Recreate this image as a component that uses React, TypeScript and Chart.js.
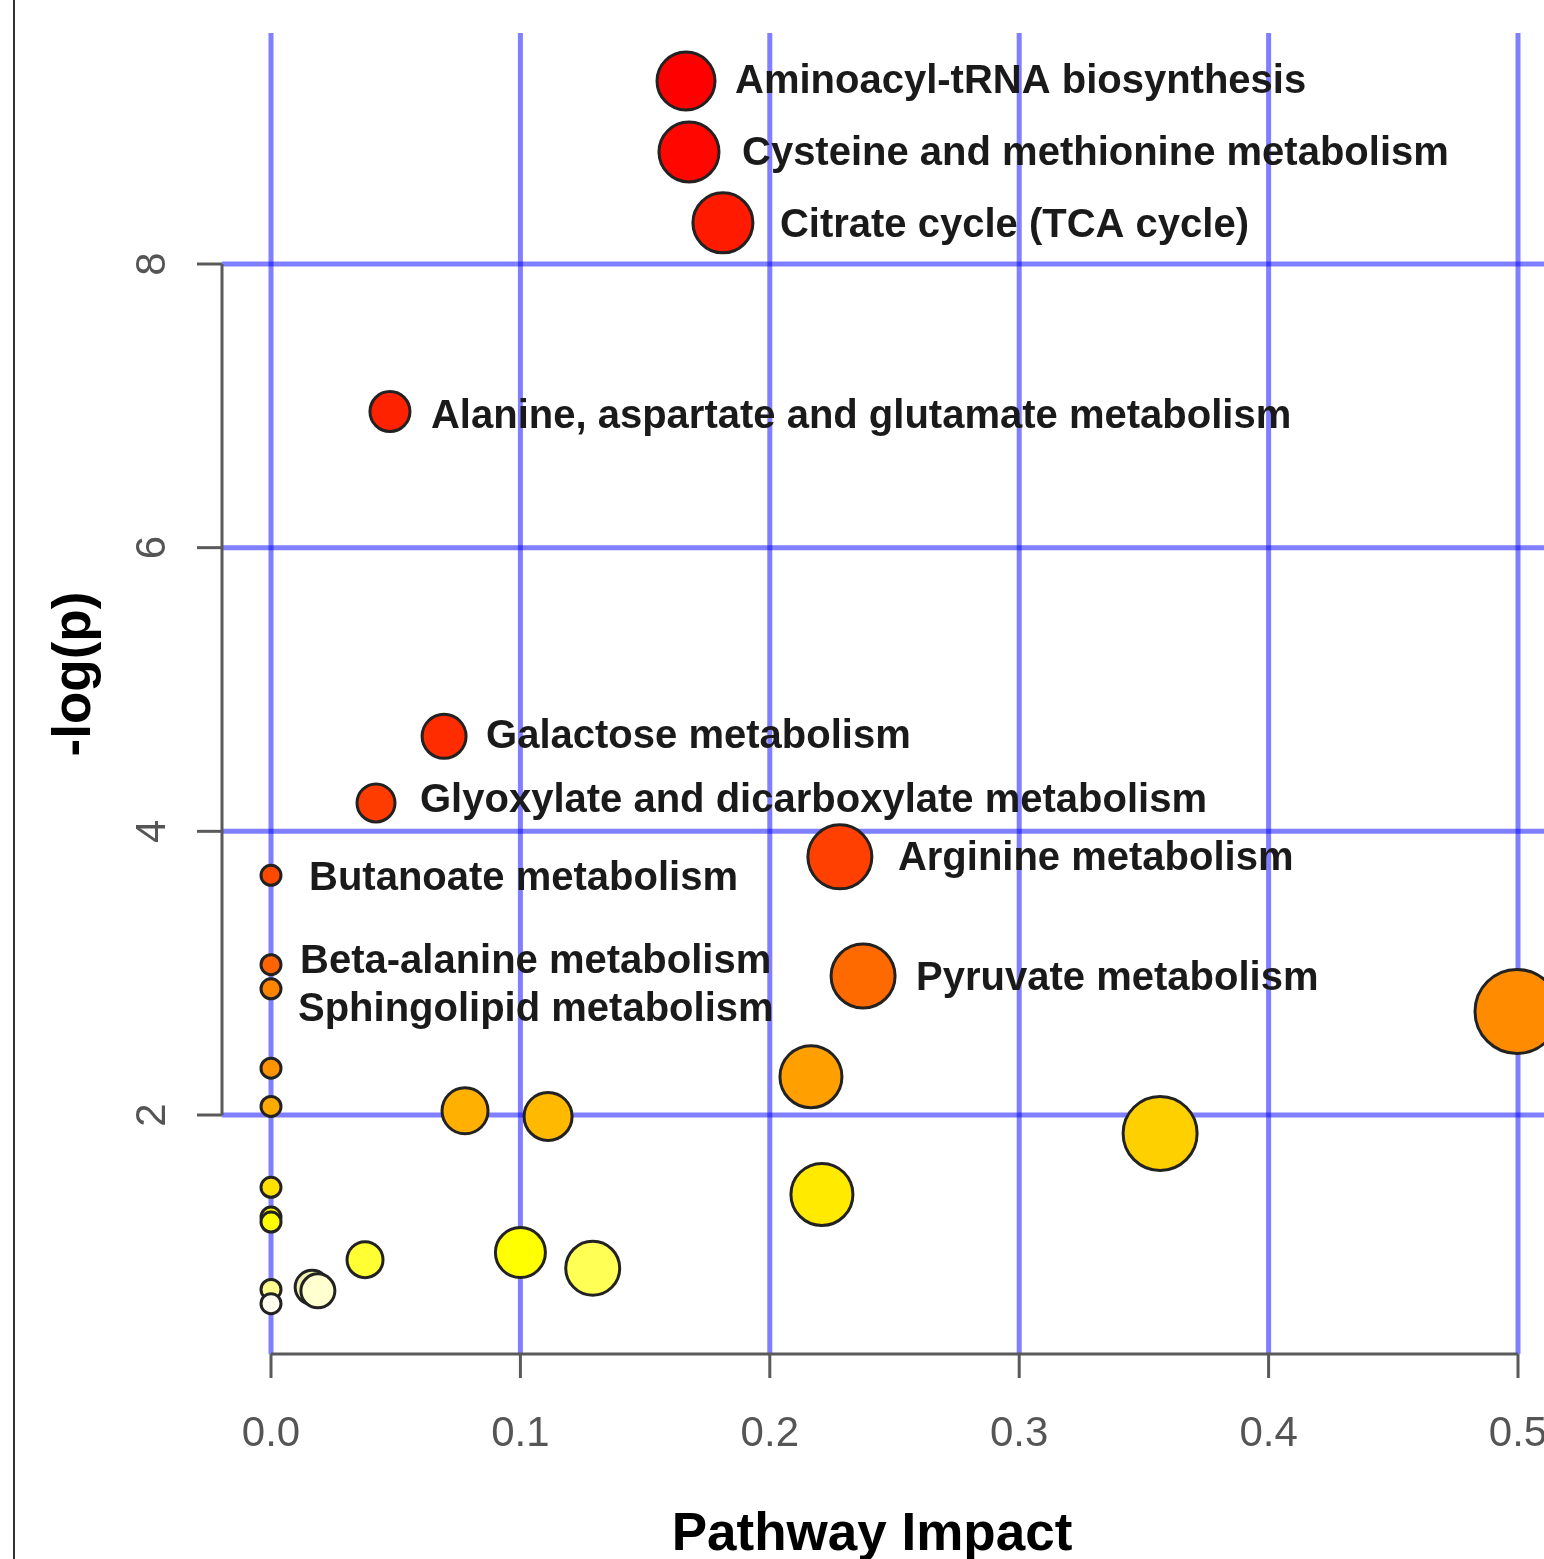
import React, { useEffect, useRef } from "react";
import { Chart, registerables } from "chart.js";

Chart.register(...registerables);

// ---------- data ----------
const pathwayNames = [
  "Aminoacyl-tRNA biosynthesis",
  "Cysteine and methionine metabolism",
  "Citrate cycle (TCA cycle)",
  "Alanine, aspartate and glutamate metabolism",
  "Galactose metabolism",
  "Glyoxylate and dicarboxylate metabolism",
  "Arginine metabolism",
  "Butanoate metabolism",
  "Beta-alanine metabolism",
  "Pyruvate metabolism",
  "Sphingolipid metabolism",
  "",
  "",
  "",
  "",
  "",
  "",
  "",
  "",
  "",
  "",
  "",
  "",
  "",
  "",
  "",
  "",
  "",
  "",
];

const impact = [
  0.1664, 0.1676, 0.1812, 0.0477, 0.0694, 0.0421, 0.2281, 0.0, 0.0, 0.2374,
  0.0, 0.4996, 0.0, 0.2165, 0.0, 0.0778, 0.1111, 0.3565, 0.0, 0.2209, 0.0,
  0.0, 0.1, 0.0377, 0.129, 0.0, 0.0165, 0.0188, 0.0,
];

const negLogP = [
  9.29, 8.79, 8.29, 6.96, 4.67, 4.2, 3.82, 3.69, 3.06, 2.98, 2.89, 2.73, 2.33,
  2.27, 2.06, 2.03, 1.99, 1.87, 1.49, 1.44, 1.28, 1.245, 1.03, 0.98, 0.92,
  0.77, 0.785, 0.76, 0.67,
];

const bubbleRadius = [
  29, 30, 30, 20, 22, 19, 32, 10, 10, 32, 10, 42, 10, 31, 10, 23, 24, 37, 10,
  31, 10, 10, 25, 18, 27, 10, 17, 17, 10,
];

const fillColors = [
  "#ff0000", "#ff0600", "#ff1a00", "#ff2200", "#ff2c00", "#ff3c00", "#ff4000",
  "#ff4800", "#ff6400", "#ff6a00", "#ff8400", "#ff8c00", "#ff9400", "#ffa000",
  "#ffaa00", "#ffb000", "#ffba00", "#ffd000", "#ffe000", "#ffea00", "#f5f000",
  "#ffff00", "#ffff00", "#ffff33", "#ffff55", "#ffff90", "#f2f2b0", "#ffffd0",
  "#fffff2",
];

const xTicks = [0, 0.1, 0.2, 0.3, 0.4, 0.5];
const xTickLabels = ["0.0", "0.1", "0.2", "0.3", "0.4", "0.5"];
const yTicks = [2, 4, 6, 8];
const yTickLabels = ["2", "4", "6", "8"];
const xTitle = "Pathway Impact";
const yTitle = "-log(p)";

// label placement relative to bubble centre (px)
const labelOffset: Record<string, [number, number]> = {
  "Aminoacyl-tRNA biosynthesis": [49, 1],
  "Cysteine and methionine metabolism": [53, 2],
  "Citrate cycle (TCA cycle)": [57, 3],
  "Alanine, aspartate and glutamate metabolism": [41, 5],
  "Galactose metabolism": [42, 1],
  "Glyoxylate and dicarboxylate metabolism": [44, -2],
  "Arginine metabolism": [58, 2],
  "Butanoate metabolism": [38, 4],
  "Beta-alanine metabolism": [29, -3],
  "Pyruvate metabolism": [53, 3],
  "Sphingolipid metabolism": [27, 21],
};

const SANS = '"Liberation Sans", Arial, Helvetica, sans-serif';

const decorPlugin = {
  id: "decor",
  beforeDatasetsDraw(chart: any) {
    const ctx = chart.ctx as CanvasRenderingContext2D;
    const xs = chart.scales.x;
    const ys = chart.scales.y;
    const area = chart.chartArea;
    const axisX = 222;
    ctx.save();
    // left frame line
    ctx.strokeStyle = "#333";
    ctx.lineWidth = 2;
    ctx.beginPath();
    ctx.moveTo(14, 0);
    ctx.lineTo(14, chart.height);
    ctx.stroke();

    // blue grid
    ctx.strokeStyle = "rgba(0,0,255,0.5)";
    ctx.lineWidth = 5;
    xTicks.forEach((v) => {
      const px = xs.getPixelForValue(v);
      ctx.beginPath();
      ctx.moveTo(px, area.top);
      ctx.lineTo(px, area.bottom);
      ctx.stroke();
    });
    yTicks.forEach((v) => {
      const py = ys.getPixelForValue(v);
      ctx.beginPath();
      ctx.moveTo(axisX, py);
      ctx.lineTo(chart.width, py);
      ctx.stroke();
    });

    // axes
    ctx.strokeStyle = "#5a5a5a";
    ctx.lineWidth = 3;
    const y0 = ys.getPixelForValue(yTicks[0]);
    const y1 = ys.getPixelForValue(yTicks[yTicks.length - 1]);
    ctx.beginPath();
    ctx.moveTo(axisX, y0);
    ctx.lineTo(axisX, y1);
    ctx.stroke();
    yTicks.forEach((v) => {
      const py = ys.getPixelForValue(v);
      ctx.beginPath();
      ctx.moveTo(axisX - 25, py);
      ctx.lineTo(axisX, py);
      ctx.stroke();
    });
    const x0 = xs.getPixelForValue(xTicks[0]);
    const x1 = xs.getPixelForValue(xTicks[xTicks.length - 1]);
    ctx.beginPath();
    ctx.moveTo(x0, area.bottom);
    ctx.lineTo(x1, area.bottom);
    ctx.stroke();
    xTicks.forEach((v) => {
      const px = xs.getPixelForValue(v);
      ctx.beginPath();
      ctx.moveTo(px, area.bottom);
      ctx.lineTo(px, area.bottom + 24);
      ctx.stroke();
    });

    // tick labels
    ctx.fillStyle = "#555";
    ctx.font = `42px ${SANS}`;
    ctx.textAlign = "center";
    ctx.textBaseline = "middle";
    xTicks.forEach((v, i) => {
      ctx.fillText(xTickLabels[i], xs.getPixelForValue(v), 1434);
    });
    yTicks.forEach((v, i) => {
      const py = ys.getPixelForValue(v);
      ctx.save();
      ctx.translate(153, py);
      ctx.rotate(-Math.PI / 2);
      ctx.fillText(yTickLabels[i], 0, 0);
      ctx.restore();
    });

    // axis titles
    ctx.fillStyle = "#000";
    ctx.font = `bold 53px ${SANS}`;
    ctx.textBaseline = "alphabetic";
    ctx.fillText(xTitle, 872, 1550);
    ctx.save();
    ctx.translate(90, 674);
    ctx.rotate(-Math.PI / 2);
    ctx.fillText(yTitle, 0, 0);
    ctx.restore();
    ctx.restore();
  },
  afterDatasetsDraw(chart: any) {
    const ctx = chart.ctx as CanvasRenderingContext2D;
    const xs = chart.scales.x;
    const ys = chart.scales.y;
    ctx.save();
    ctx.fillStyle = "#1a1a1a";
    ctx.font = `bold 40px ${SANS}`;
    ctx.textAlign = "left";
    ctx.textBaseline = "middle";
    pathwayNames.forEach((name, i) => {
      if (!name) return;
      const off = labelOffset[name] || [bubbleRadius[i] + 20, 0];
      const px = xs.getPixelForValue(impact[i]);
      const py = ys.getPixelForValue(negLogP[i]);
      ctx.fillText(name, px + off[0], py + off[1]);
    });
    ctx.restore();
  },
};

export default function App() {
  const canvasRef = useRef<HTMLCanvasElement | null>(null);

  useEffect(() => {
    const canvas = canvasRef.current;
    if (!canvas) return;
    const points = impact.map((x, i) => ({ x, y: negLogP[i], r: bubbleRadius[i] }));
    const chart = new Chart(canvas, {
      type: "bubble",
      data: {
        datasets: [
          {
            data: points,
            backgroundColor: fillColors,
            borderColor: "#222",
            borderWidth: 3,
            clip: false as any,
          } as any,
        ],
      },
      options: {
        responsive: false,
        devicePixelRatio: 1,
        animation: false,
        events: [],
        layout: { autoPadding: false, padding: { left: 271, right: 26, top: 33, bottom: 205 } } as any,
        scales: {
          x: { type: "linear", min: 0, max: 0.5, display: false },
          y: { type: "linear", min: 0.3149, max: 9.6287, display: false },
        },
        plugins: {
          legend: { display: false },
          tooltip: { enabled: false },
        },
      },
      plugins: [decorPlugin],
    });
    return () => chart.destroy();
  }, []);

  return (
    <div style={{ position: "absolute", left: 0, top: 0, width: 1544, height: 1559, background: "#fff" }}>
      <canvas ref={canvasRef} width={1544} height={1559} style={{ display: "block" }} />
    </div>
  );
}
